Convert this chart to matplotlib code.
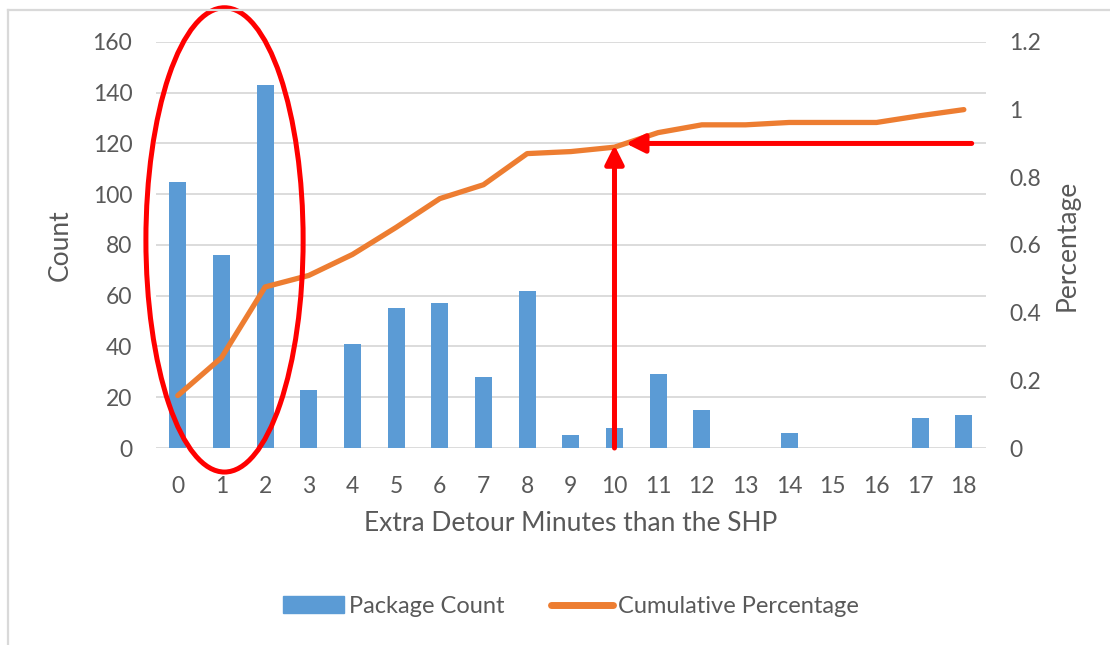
import matplotlib
matplotlib.use("Agg")
import matplotlib.pyplot as plt
from matplotlib.patches import Ellipse
from matplotlib.lines import Line2D

# Daten
minutes = list(range(19))
package_count = [105, 76, 143, 23, 41, 55, 57, 28, 62, 5, 8, 29, 15, 0, 6, 0, 0, 12, 13]
cumulative_pct = [0.155, 0.267, 0.476, 0.510, 0.572, 0.652, 0.737, 0.778, 0.870, 0.876,
                  0.889, 0.932, 0.955, 0.955, 0.962, 0.962, 0.962, 0.982, 1.0]
count_ticks = [0, 20, 40, 60, 80, 100, 120, 140, 160]
pct_ticks = [0, 0.2, 0.4, 0.6, 0.8, 1.0, 1.2]
pct_labels = ["0", "0.2", "0.4", "0.6", "0.8", "1", "1.2"]

TEXT = "#595959"
GRID = "#d9d9d9"
BLUE = "#5b9bd5"
ORANGE = "#ed7d31"
RED = "#ff0000"

plt.rcParams["font.family"] = ["Lato", "DejaVu Sans"]

fig, ax = plt.subplots(figsize=(11.1, 6.45), dpi=100)
fig.subplots_adjust(left=0.1405, right=0.888, top=0.935, bottom=0.3054)

# Balken
ax.bar(minutes, package_count, width=0.39, color=BLUE, zorder=2)
ax.set_xlim(-0.5, 18.5)
ax.set_ylim(0, 160)
ax.set_yticks(count_ticks)
ax.set_xticks(minutes)
ax.yaxis.grid(True, color=GRID, linewidth=1.3, zorder=0)
ax.set_axisbelow(True)
for s in ax.spines.values():
    s.set_visible(False)
ax.tick_params(axis="both", length=0, labelsize=16.5, colors=TEXT)
ax.tick_params(axis="y", pad=17)
ax.tick_params(axis="x", pad=20)
ax.set_ylabel("Count", fontsize=19, color=TEXT, labelpad=14)
ax.set_xlabel("Extra Detour Minutes than the SHP", fontsize=19, color=TEXT, labelpad=10)

# Kumulative Linie
ax2 = ax.twinx()
ax2.plot(minutes, cumulative_pct, color=ORANGE, linewidth=3.8, solid_capstyle="round",
         solid_joinstyle="round", zorder=3)
ax2.set_ylim(0, 1.2)
ax2.set_yticks(pct_ticks)
ax2.set_yticklabels(pct_labels)
for s in ax2.spines.values():
    s.set_visible(False)
ax2.tick_params(axis="y", length=0, labelsize=16.5, colors=TEXT, pad=17)
ax2.set_ylabel("Percentage", fontsize=19, color=TEXT, labelpad=10)

# Markierungen
ell = Ellipse((1.07, 0.615), width=3.6, height=1.372, fill=False, edgecolor=RED,
              linewidth=3.6, clip_on=False, zorder=5)
ax2.add_patch(ell)
arrow = dict(arrowstyle="-|>", color=RED, lw=3.6, mutation_scale=28,
             shrinkA=0, shrinkB=0)
ax2.annotate("", xy=(10, 0.895), xytext=(10, 0.0), arrowprops=arrow,
             annotation_clip=False, zorder=6)
ax2.annotate("", xy=(10.26, 0.9), xytext=(18.18, 0.9), arrowprops=arrow,
             annotation_clip=False, zorder=6)

# Legende
handles = [plt.Rectangle((0, 0), 1, 1, color=BLUE),
           Line2D([0], [0], color=ORANGE, linewidth=5, solid_capstyle="round")]
fig.legend(handles, ["Package Count", "Cumulative Percentage"], loc="center",
           bbox_to_anchor=(0.514, 0.06), ncol=2, frameon=False, fontsize=17,
           labelcolor=TEXT, handlelength=2.6, handletextpad=0.2, columnspacing=2.0)

# Rahmen (nur links und oben sichtbar)
fig.add_artist(Line2D([8 / 1110, 8 / 1110], [0, 1 - 10 / 645], transform=fig.transFigure,
                      color=GRID, linewidth=1.6))
fig.add_artist(Line2D([8 / 1110, 1], [1 - 10 / 645, 1 - 10 / 645], transform=fig.transFigure,
                      color=GRID, linewidth=1.6))

fig.savefig("out.png", dpi=100)
